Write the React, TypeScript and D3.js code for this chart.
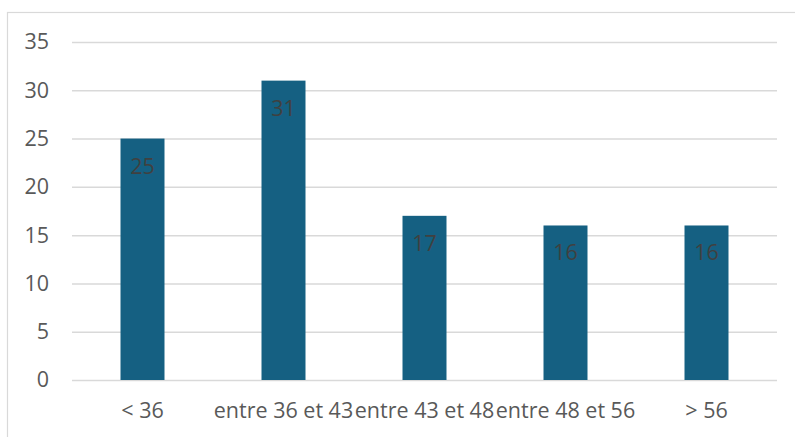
import { useEffect, useRef } from 'react';
import * as d3 from 'd3';

const categories: string[] = ['< 36', 'entre 36 et 43', 'entre 43 et 48', 'entre 48 et 56', '> 56'];
const values: number[] = [25, 31, 17, 16, 16];
const yTicks: number[] = [0, 5, 10, 15, 20, 25, 30, 35];

const App: React.FC = () => {
  const svgRef = useRef<SVGSVGElement | null>(null);

  useEffect(() => {
    if (svgRef.current === null) return;
    const width = 795;
    const height = 437;
    const plot = { left: 72, right: 777, top: 42, bottom: 380 };
    const font = '"Open Sans", sans-serif';

    const svg = d3.select(svgRef.current).attr('width', width).attr('height', height);
    svg.selectAll('*').remove();

    svg.append('rect').attr('width', width).attr('height', height).attr('fill', '#ffffff');

    // cadre du graphique
    svg
      .append('rect')
      .attr('x', 7.5)
      .attr('y', 12.5)
      .attr('width', 820)
      .attr('height', 460)
      .attr('fill', 'none')
      .attr('stroke', '#d9d9d9')
      .attr('stroke-width', 1.2);

    const y = d3.scaleLinear().domain([0, 35]).range([plot.bottom, plot.top]);
    const x = d3
      .scaleBand<string>()
      .domain(categories)
      .range([plot.left, plot.right])
      .paddingInner(0.688)
      .paddingOuter(0.344);

    // grille + axe Y
    const yAxis = svg
      .append('g')
      .attr('transform', `translate(${plot.left},0)`)
      .call(
        d3
          .axisLeft(y)
          .tickValues(yTicks)
          .tickSize(-(plot.right - plot.left))
          .tickPadding(23)
      );
    yAxis.select('.domain').remove();
    yAxis.selectAll('.tick line').attr('stroke', '#d9d9d9').attr('stroke-width', 1.5);
    yAxis
      .selectAll('.tick text')
      .attr('fill', '#595959')
      .style('font-family', font)
      .style('font-size', '21.5px');

    // barres
    svg
      .selectAll('.bar')
      .data(values)
      .enter()
      .append('rect')
      .attr('class', 'bar')
      .attr('x', (_d, i) => x(categories[i])!)
      .attr('y', (d) => y(d))
      .attr('width', x.bandwidth())
      .attr('height', (d) => y(0) - y(d))
      .attr('fill', '#156082');

    // étiquettes de données
    svg
      .selectAll('.bar-label')
      .data(values)
      .enter()
      .append('text')
      .attr('class', 'bar-label')
      .attr('x', (_d, i) => x(categories[i])! + x.bandwidth() / 2)
      .attr('y', (d) => y(d) + 35)
      .attr('text-anchor', 'middle')
      .attr('fill', '#404040')
      .style('font-family', font)
      .style('font-size', '21.5px')
      .text((d) => d);

    // libellés de l'axe X
    svg
      .selectAll('.x-label')
      .data(categories)
      .enter()
      .append('text')
      .attr('class', 'x-label')
      .attr('x', (d) => x(d)! + x.bandwidth() / 2)
      .attr('y', 418)
      .attr('text-anchor', 'middle')
      .attr('fill', '#595959')
      .style('font-family', font)
      .style('font-size', '21.5px')
      .text((d) => d);
  }, []);

  return (
    <div style={{ position: 'fixed', left: 0, top: 0 }}>
      <svg ref={svgRef} style={{ display: 'block' }}></svg>
    </div>
  );
};

export default App;
